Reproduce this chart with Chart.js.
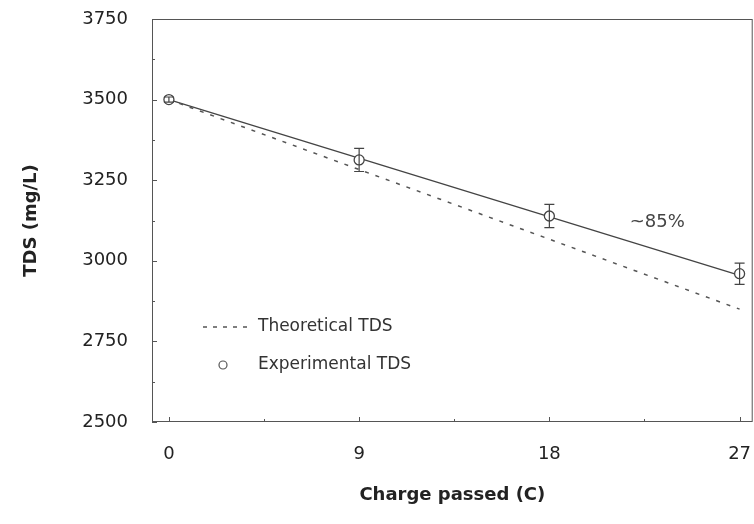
<!DOCTYPE html>
<html>
<head>
<meta charset="utf-8">
<script src="https://cdn.jsdelivr.net/npm/chart.js@4"></script>
<style>
  html, body { margin: 0; padding: 0; background: #fff; overflow: hidden; }
  #wrap { width: 759px; height: 524px; }
</style>
</head>
<body>
<div id="wrap"><canvas id="tdsChart"></canvas></div>
<script>
// data
const chargeC = [0, 9, 18, 27];
const theoreticalTDS = [3500, 3283, 3067, 2850];
const experimentalTDS = [3500, 3313, 3139, 2960];
const experimentalErr = [8, 36, 36, 33];
const fitCharge = [0, 27];
const fitTDS = [3500, 2955];
const xTicks = [0, 9, 18, 27];
const yTicks = [2500, 2750, 3000, 3250, 3500, 3750];
const annotationText = '~85%';

const FONT = 'DejaVu Sans';

function pts(xs, ys) {
    return xs.map((x, i) => ({ x: x, y: ys[i] }));
}

// box, inward ticks, error bars, legend and label
const extras = {
    id: 'extras',
    afterDatasetsDraw(chart) {
        const { ctx, chartArea: a, scales: { x, y } } = chart;
        ctx.save();

        // error bars
        ctx.strokeStyle = '#444';
        ctx.lineWidth = 1.2;
        chargeC.forEach((c, i) => {
            const px = x.getPixelForValue(c);
            const top = y.getPixelForValue(experimentalTDS[i] + experimentalErr[i]);
            const bot = y.getPixelForValue(experimentalTDS[i] - experimentalErr[i]);
            ctx.beginPath();
            ctx.moveTo(px, top); ctx.lineTo(px, bot);
            ctx.moveTo(px - 5, top); ctx.lineTo(px + 5, top);
            ctx.moveTo(px - 5, bot); ctx.lineTo(px + 5, bot);
            ctx.stroke();
        });

        // frame
        ctx.strokeStyle = '#555';
        ctx.lineWidth = 1;
        ctx.strokeRect(a.left + 0.5, a.top + 0.5, a.right - a.left - 1, a.bottom - a.top - 1);

        // inward ticks (major + minor)
        ctx.beginPath();
        for (let v = 2500; v <= 3750; v += 125) {
            const py = Math.round(y.getPixelForValue(v)) + 0.5;
            const len = v % 250 === 0 ? 5 : 3;
            ctx.moveTo(a.left, py); ctx.lineTo(a.left + len, py);
        }
        for (let v = 0; v <= 27; v += 4.5) {
            const px = Math.round(x.getPixelForValue(v)) + 0.5;
            const len = v % 9 === 0 ? 5 : 3;
            ctx.moveTo(px, a.bottom); ctx.lineTo(px, a.bottom - len);
        }
        ctx.stroke();

        // annotation
        ctx.fillStyle = '#444';
        ctx.font = '18px "' + FONT + '"';
        ctx.textBaseline = 'middle';
        ctx.textAlign = 'left';
        ctx.fillText(annotationText, x.getPixelForValue(21.8), y.getPixelForValue(3120));

        // legend
        const ds = chart.data.datasets;
        ctx.font = '17px "' + FONT + '"';
        ctx.fillStyle = '#333';
        ctx.strokeStyle = '#555';
        ctx.lineWidth = 1.4;
        ctx.setLineDash([4, 6]);
        ctx.beginPath();
        ctx.moveTo(203, 327); ctx.lineTo(249, 327);
        ctx.stroke();
        ctx.setLineDash([]);
        ctx.fillText(ds[1].label, 258, 327);
        ctx.beginPath();
        ctx.arc(223, 365, 4, 0, Math.PI * 2);
        ctx.lineWidth = 1.2;
        ctx.stroke();
        ctx.fillText(ds[0].label, 258, 365);

        ctx.restore();
    }
};

const ctx = document.getElementById('tdsChart').getContext('2d');
new Chart(ctx, {
    type: 'scatter',
    data: {
        datasets: [
            {
                label: 'Experimental TDS',
                data: pts(chargeC, experimentalTDS),
                pointRadius: 5,
                pointBorderWidth: 1.3,
                borderColor: '#444',
                backgroundColor: '#fff'
            },
            {
                label: 'Theoretical TDS',
                data: pts(chargeC, theoreticalTDS),
                showLine: true,
                pointRadius: 0,
                borderColor: '#555',
                borderWidth: 1.5,
                borderDash: [4, 7]
            },
            {
                label: 'Fit',
                data: pts(fitCharge, fitTDS),
                showLine: true,
                pointRadius: 0,
                borderColor: '#444',
                borderWidth: 1.3
            }
        ]
    },
    options: {
        responsive: true,
        maintainAspectRatio: false,
        animation: false,
        layout: { padding: { left: 0, right: 0, top: 19, bottom: 0 } },
        plugins: {
            legend: { display: false },
            tooltip: { enabled: false }
        },
        scales: {
            x: {
                type: 'linear',
                min: -0.8,
                max: 27.62,
                afterBuildTicks: scale => { scale.ticks = xTicks.map(v => ({ value: v })); },
                afterFit: scale => {
                    scale.height = 102;
                    scale.paddingLeft = 0;
                    scale.paddingRight = 0;
                },
                grid: { display: false, drawTicks: false },
                border: { display: false },
                ticks: {
                    padding: 22,
                    color: '#222',
                    font: { family: FONT, size: 18 },
                    callback: v => String(v)
                },
                title: {
                    display: true,
                    text: 'Charge passed (C)',
                    color: '#222',
                    font: { family: FONT, size: 18, weight: 'bold' },
                    padding: { top: 0, bottom: 18 }
                }
            },
            y: {
                min: 2500,
                max: 3750,
                afterBuildTicks: scale => { scale.ticks = yTicks.map(v => ({ value: v })); },
                afterFit: scale => {
                    scale.width = 152;
                    scale.paddingTop = 0;
                    scale.paddingBottom = 0;
                },
                grid: { display: false, drawTicks: false },
                border: { display: false },
                ticks: {
                    padding: 24,
                    color: '#222',
                    font: { family: FONT, size: 18 },
                    callback: v => String(v)
                },
                title: {
                    display: true,
                    text: 'TDS (mg/L)',
                    color: '#222',
                    font: { family: FONT, size: 18, weight: 'bold' },
                    padding: { top: 21, bottom: 0 }
                }
            }
        }
    },
    plugins: [extras]
});
</script>
</body>
</html>
